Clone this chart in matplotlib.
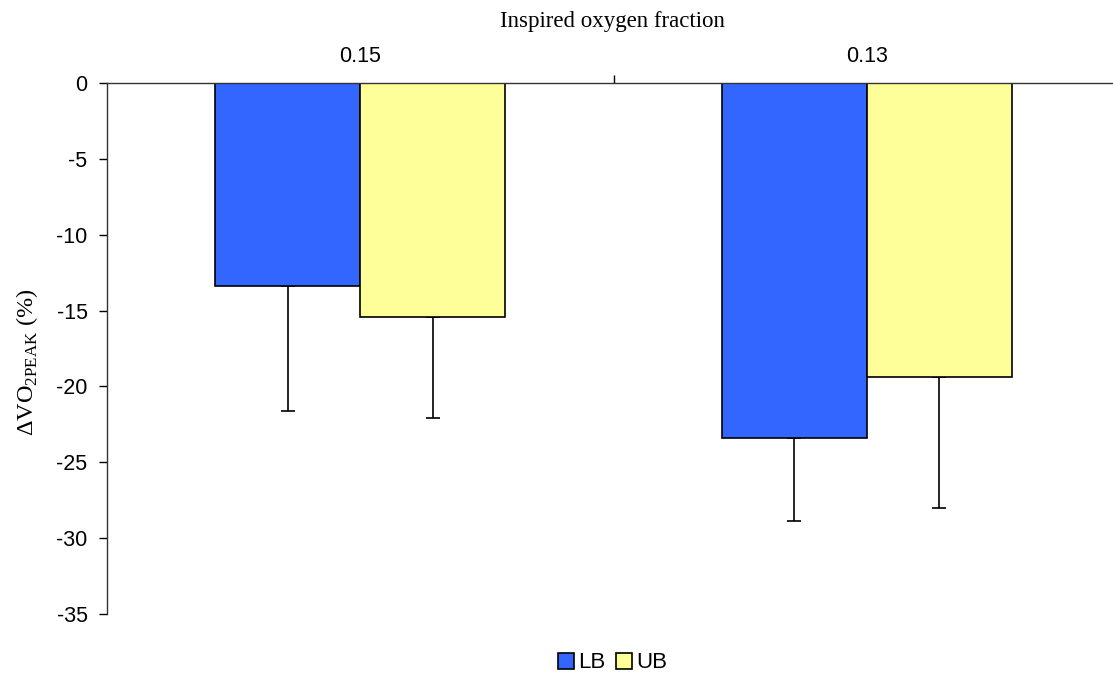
import matplotlib
matplotlib.use("Agg")
import matplotlib.pyplot as plt
import numpy as np

# Change in peak oxygen uptake by inspired oxygen fraction
categories = ["0.15", "0.13"]
series_names = ["LB", "UB"]
lb_values = [-13.4, -23.4]
ub_values = [-15.4, -19.4]
lb_errors = [8.2, 5.5]
ub_errors = [6.7, 8.6]
y_ticks = [0, -5, -10, -15, -20, -25, -30, -35]

colors = ["#3366FF", "#FFFF99"]

plt.rcParams["font.family"] = ["Liberation Sans", "DejaVu Sans"]

W, H = 1113, 677
fig = plt.figure(figsize=(W / 100, H / 100), dpi=100)
ax = fig.add_axes([107 / W, 1 - 614 / H, (1120 - 107) / W, (614 - 83) / H])

x = np.arange(len(categories))
width = 0.286
for offset, vals, errs, col, name in [(-width / 2, lb_values, lb_errors, colors[0], series_names[0]),
                                      (width / 2, ub_values, ub_errors, colors[1], series_names[1])]:
    ax.bar(x + offset, vals, width, color=col, edgecolor="black", linewidth=1.2, label=name, zorder=2)
    ax.errorbar(x + offset, vals, yerr=[errs, [0] * len(errs)], fmt="none",
                ecolor="black", elinewidth=1.2, capsize=5, capthick=1.2, zorder=1)

ax.set_xlim(-0.5, 1.5)
ax.set_ylim(-35, 0)

for s in ["right", "bottom"]:
    ax.spines[s].set_visible(False)
ax.spines["left"].set_linewidth(1)
ax.spines["left"].set_color("#333333")
ax.spines["top"].set_linewidth(1)
ax.spines["top"].set_color("#333333")

ax.set_yticks(y_ticks)
ax.set_yticklabels([str(t) for t in y_ticks], fontsize=15.5)
ax.tick_params(axis="y", direction="out", length=6, width=1, pad=8)

# boundary tick between the two groups on the top axis, labels at group centres
ax.xaxis.tick_top()
ax.set_xticks([0.5])
ax.set_xticklabels([""])
ax.tick_params(axis="x", direction="out", length=6, width=1)
for xi, lab in zip(x, categories):
    ax.text(xi, 1 + 16 / (614 - 83), lab, transform=ax.get_xaxis_transform(),
            ha="center", va="bottom", fontsize=15.5, clip_on=False)

fig.text(612 / W, 1 - 22 / H, "Inspired oxygen fraction", ha="center", va="center",
         fontsize=16.5, family=["Liberation Serif", "DejaVu Serif"])
fig.text(27 / W, 1 - 362 / H, "ΔVO$_\\mathregular{2PEAK}$ (%)", ha="center", va="center",
         rotation=90, fontsize=17.5, family=["Liberation Serif", "DejaVu Serif"])

handles = [plt.Line2D([], [], marker="s", linestyle="none", markersize=11,
                      markerfacecolor=c, markeredgecolor="black", markeredgewidth=1.2)
           for c in colors]
fig.legend(handles, series_names, loc="center", bbox_to_anchor=(613 / W, 1 - 663 / H),
           ncol=2, frameon=False, fontsize=16, handlelength=0.7, handletextpad=0.2,
           columnspacing=0.5)

fig.savefig("out.png", dpi=100)
